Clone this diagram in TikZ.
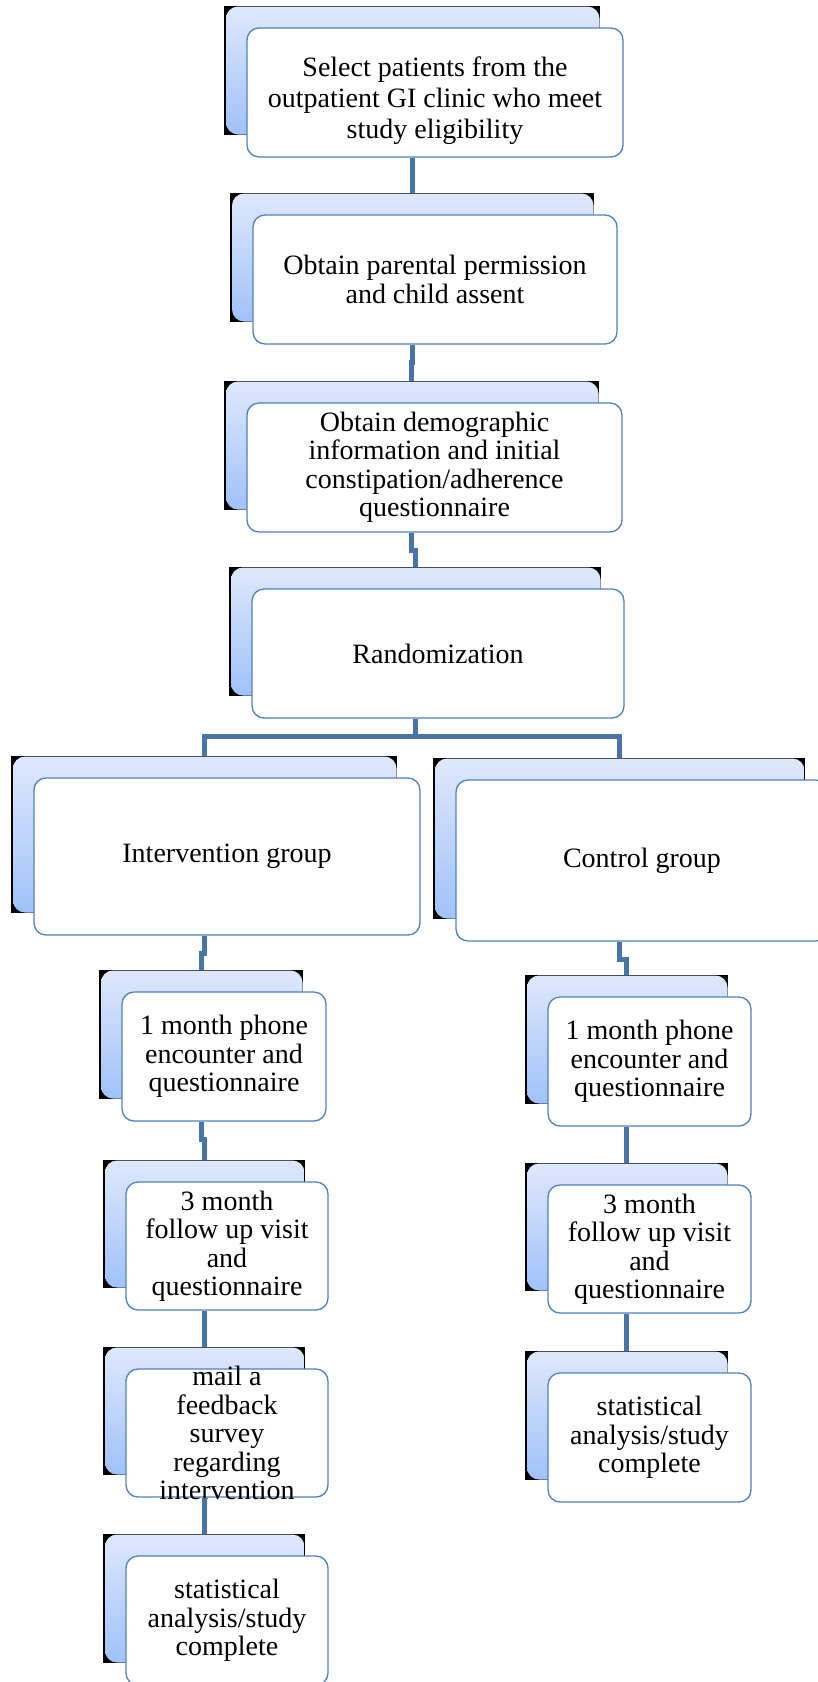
\documentclass[tikz,border=0pt]{standalone}
\usepackage{fontspec}
\setmainfont{Liberation Serif}
\definecolor{boxBorder}{RGB}{79,129,189}
\definecolor{linkColor}{RGB}{72,116,170}
\definecolor{backTop}{RGB}{222,232,251}
\definecolor{backBottom}{RGB}{160,193,250}
\tikzstyle{chart} = [x = 1pt, y = -1pt]
\tikzstyle{frontBox} = [draw=boxBorder, fill=white, line width=1.3pt, rounded corners=12pt, inner sep=0pt]
\tikzstyle{backBox} = [fill=black, inner sep=0pt, path picture={\shade [top color=backTop, bottom color=backBottom, rounded corners=12pt] ([xshift=2pt, yshift=-0.5pt]path picture bounding box.north west) rectangle ([xshift=-0.5pt, yshift=0.5pt]path picture bounding box.south east);}]
\tikzstyle{boxText} = [font=\fontsize{28}{28.5}\selectfont, align=center, inner sep=0pt]
\tikzstyle{linkLine} = [draw=linkColor, line width=5pt]
% [text options] name, centre x, centre y, width, height, text
\newcommand{\stepBox}[7][]{
  \node [backBox, minimum width=#5pt, minimum height=#6pt] (#2Back) at (#3 - 23, #4 - 22) {};
  \node [frontBox, minimum width=#5pt, minimum height=#6pt] (#2) at (#3, #4) {};
  \node [boxText, #1] (#2Text) at (#2.center) {#7};
}
\newcommand{\linkBoxes}[2]{\draw [linkLine] (#1Back |- #1.south) -- ++(0,18) -| (#2Back.north);}

\begin{document}
\begin{tikzpicture}[chart]
      \useasboundingbox (0,0) rectangle (817,1682);

      \stepBox[yshift=-8pt, font=\fontsize{28}{31}\selectfont]{select}{435}{92.5}{376}{129}{Select patients from the\\outpatient GI clinic who meet\\study eligibility}
      \stepBox{permission}{435}{279.5}{364}{129}{Obtain parental permission\\and child assent}
      \stepBox{demographic}{434.5}{467.5}{375}{129}{Obtain demographic\\information and initial\\constipation/adherence\\questionnaire}
      \stepBox{random}{438}{653.5}{372}{129}{Randomization}

      \stepBox{intervention}{227}{856.5}{386}{157}{Intervention group}
      \stepBox{control}{642}{860.5}{372}{161}{Control group}

      \stepBox{intPhone}{224}{1056.5}{204}{129}{1 month phone\\encounter and\\questionnaire}
      \stepBox{intVisit}{227}{1246}{202}{128}{3 month\\follow up visit\\and\\questionnaire}
      \stepBox{intMail}{227}{1433}{202}{128}{mail a\\feedback\\survey\\regarding\\intervention}
      \stepBox{intStat}{227}{1620.5}{202}{129}{statistical\\analysis/study\\complete}

      \stepBox{conPhone}{649.5}{1061.5}{203}{129}{1 month phone\\encounter and\\questionnaire}
      \stepBox{conVisit}{649.5}{1249}{203}{128}{3 month\\follow up visit\\and\\questionnaire}
      \stepBox{conStat}{649.5}{1437.5}{203}{129}{statistical\\analysis/study\\complete}

      \linkBoxes{select}{permission}
      \linkBoxes{permission}{demographic}
      \linkBoxes{demographic}{random}
      \linkBoxes{random}{intervention}
      \linkBoxes{random}{control}
      \linkBoxes{intervention}{intPhone}
      \linkBoxes{intPhone}{intVisit}
      \linkBoxes{intVisit}{intMail}
      \linkBoxes{intMail}{intStat}
      \linkBoxes{control}{conPhone}
      \linkBoxes{conPhone}{conVisit}
      \linkBoxes{conVisit}{conStat}
    \end{tikzpicture}
\end{document}
